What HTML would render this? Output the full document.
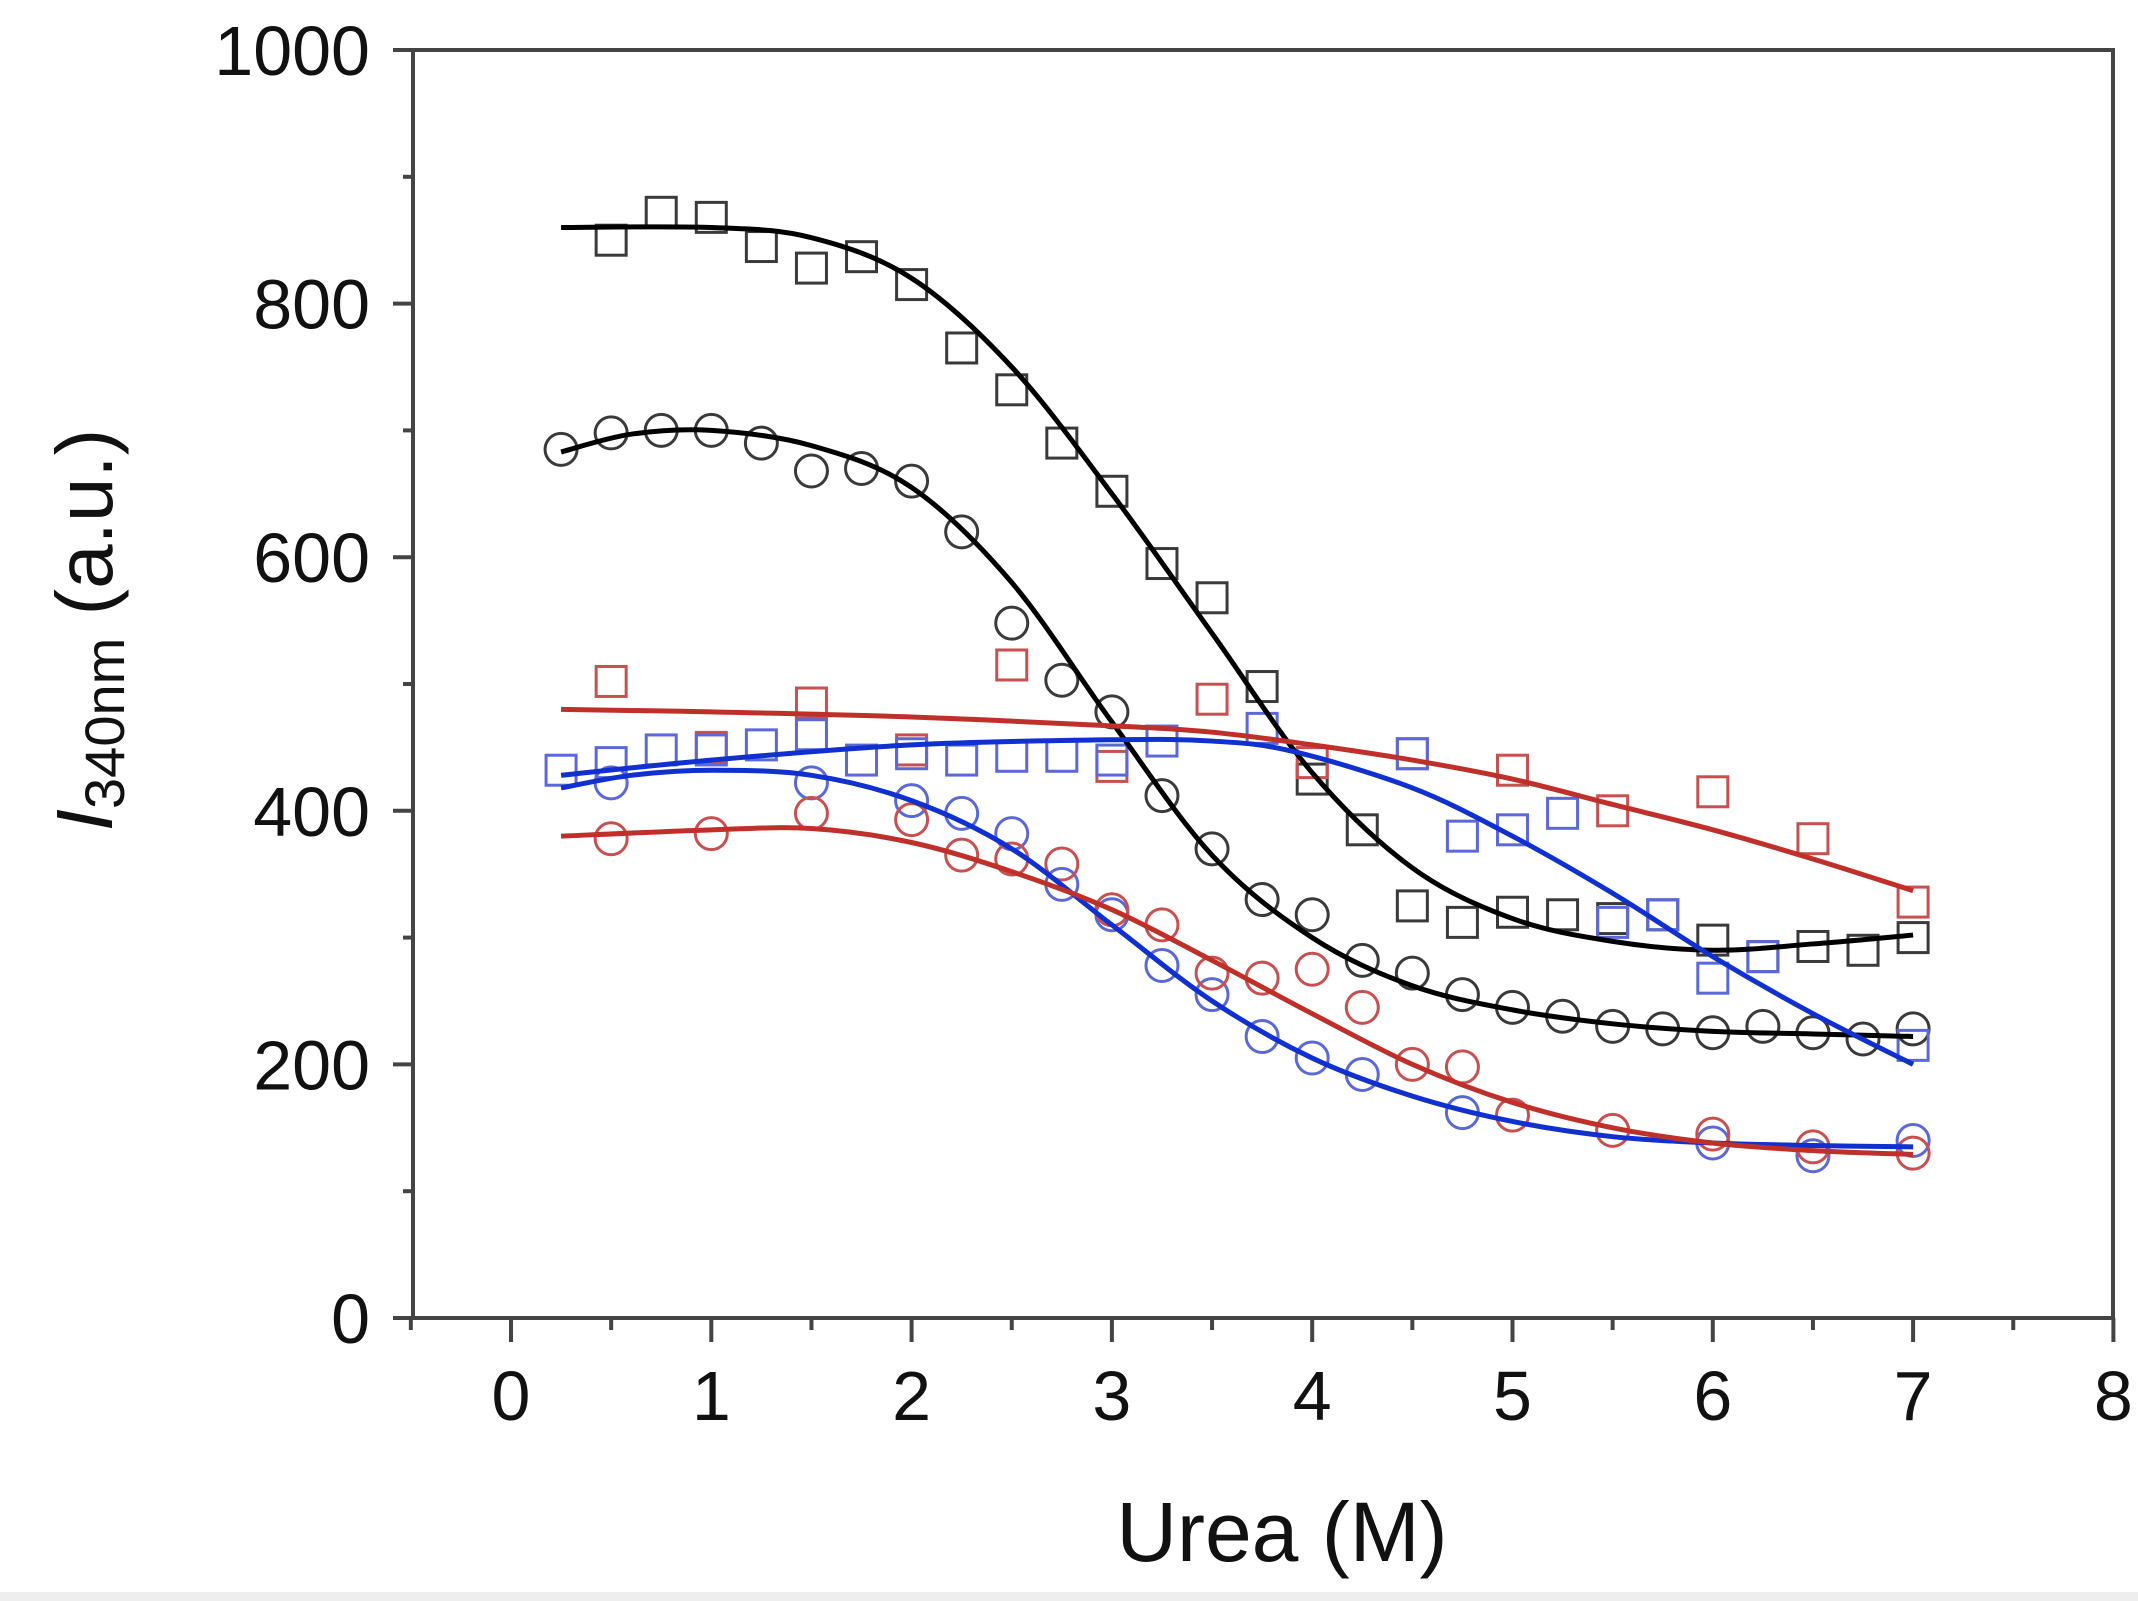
<!DOCTYPE html>
<html><head><meta charset="utf-8"><style>
html,body{margin:0;padding:0;background:#fff;}
svg{display:block;}
text{font-family:"Liberation Sans","DejaVu Sans",sans-serif;fill:#111;}
</style></head><body>
<svg id="s" width="2138" height="1601" viewBox="0 0 2138 1601" xmlns="http://www.w3.org/2000/svg">
<rect x="0" y="0" width="2138" height="1601" fill="#fff"/>
<rect x="0" y="1592" width="2138" height="9" fill="#eeeeee"/>
<g id="ax"></g>
<g id="data"></g>
<text x="1282" y="1561" font-size="84" text-anchor="middle">Urea (M)</text>
<text transform="translate(112,630) rotate(-90)" font-size="80" text-anchor="middle"><tspan font-style="italic">I</tspan><tspan font-size="56" dy="12">340nm</tspan><tspan dy="-12"> (a.u.)</tspan></text>
</svg>
<script>
const L=413,R=2113,T=50,B=1318;
const X=v=>511+v*200.3, Y=v=>1318-v*1.268;
const NS="http://www.w3.org/2000/svg";
function el(p,n,a,t){const e=document.createElementNS(NS,n);for(const k in a)e.setAttribute(k,a[k]);if(t!==undefined)e.textContent=t;p.appendChild(e);return e;}
const ax=document.getElementById('ax'),dg=document.getElementById('data');
el(ax,'rect',{x:L,y:T,width:R-L,height:B-T,fill:'none',stroke:'#444','stroke-width':4});
for(let v=0;v<=1000;v+=100){const y=Y(v),maj=v%200==0;el(ax,'line',{x1:L-(maj?20:10),x2:L,y1:y,y2:y,stroke:'#444','stroke-width':4});
 if(maj)el(ax,'text',{x:370,y:y+25,'font-size':70,'text-anchor':'end'},v);}
for(let v=-0.5;v<=8.001;v+=0.5){const x=X(v),maj=Math.abs(v%1)<1e-6;el(ax,'line',{x1:x,x2:x,y1:B,y2:B+(maj?24:12),stroke:'#444','stroke-width':4});
 if(maj)el(ax,'text',{x:x,y:1420,'font-size':70,'text-anchor':'middle'},v);}
function curve(pts,col){let d='';const P=pts.map(p=>[X(p[0]),Y(p[1])]);
 d='M'+P[0][0]+','+P[0][1];
 for(let i=0;i<P.length-1;i++){const p0=P[Math.max(0,i-1)],p1=P[i],p2=P[i+1],p3=P[Math.min(P.length-1,i+2)];
  d+=' C'+(p1[0]+(p2[0]-p0[0])/6)+','+(p1[1]+(p2[1]-p0[1])/6)+' '+(p2[0]-(p3[0]-p1[0])/6)+','+(p2[1]-(p3[1]-p1[1])/6)+' '+p2[0]+','+p2[1];}
 el(dg,'path',{d:d,fill:'none',stroke:col,'stroke-width':5});}
function sq(pts,col){pts.forEach(p=>el(dg,'rect',{x:X(p[0])-15,y:Y(p[1])-15,width:30,height:30,fill:'none',stroke:col,'stroke-width':3}));}
function ci(pts,col){pts.forEach(p=>el(dg,'circle',{cx:X(p[0]),cy:Y(p[1]),r:16,fill:'none',stroke:col,'stroke-width':3}));}
const K='#3a3a3a',RM='#c85050',BM='#5a68d8',RC='#c0302a',BC='#1030d0';
sq([[0.5,850],[0.75,872],[1,868],[1.25,845],[1.5,828],[1.75,837],[2,815],[2.25,765],[2.5,732],[2.75,690],[3,652],[3.25,595],[3.5,568],[3.75,498],[4,425],[4.25,385],[4.5,325],[4.75,312],[5,320],[5.25,318],[5.5,315],[5.75,318],[6,298],[6.25,285],[6.5,293],[6.75,290],[7,300]],K);
ci([[0.25,685],[0.5,698],[0.75,700],[1,700],[1.25,690],[1.5,668],[1.75,670],[2,660],[2.25,620],[2.5,548],[2.75,503],[3,478],[3.25,412],[3.5,370],[3.75,330],[4,318],[4.25,282],[4.5,272],[4.75,255],[5,245],[5.25,238],[5.5,230],[5.75,228],[6,225],[6.25,230],[6.5,225],[6.75,220],[7,228]],K);
sq([[0.5,502],[1,450],[1.5,485],[2,448],[2.5,515],[3,435],[3.5,488],[4,438],[4.5,445],[5,432],[5.5,400],[6,415],[6.5,378],[7,328]],RM);
sq([[0.25,432],[0.5,438],[0.75,448],[1,448],[1.25,452],[1.5,460],[1.75,440],[2,445],[2.25,440],[2.5,443],[2.75,443],[3,440],[3.25,455],[3.75,465],[4.5,445],[4.75,380],[5,385],[5.25,398],[5.5,312],[5.75,318],[6,268],[6.25,285],[7,215]],BM);
ci([[0.5,422],[1.5,422],[2,408],[2.25,398],[2.5,382],[2.75,342],[3,318],[3.25,278],[3.5,255],[3.75,222],[4,205],[4.25,192],[4.75,162],[6,138],[6.5,128],[7,140]],BM);
ci([[0.5,378],[1,382],[1.5,398],[2,393],[2.25,365],[2.5,362],[2.75,358],[3,322],[3.25,310],[3.5,272],[3.75,268],[4,275],[4.25,245],[4.5,200],[4.75,198],[5,160],[5.5,148],[6,145],[6.5,135],[7,130]],RM);
curve([[0.25,860],[1,860],[1.5,852],[2,820],[2.5,750],[3,650],[3.5,540],[4,430],[4.5,355],[5,315],[5.5,297],[6,290],[6.5,295],[7,302]],'#000');
curve([[0.25,683],[0.6,697],[1,700],[1.5,688],[2,655],[2.5,580],[3,470],[3.5,365],[4,300],[4.5,262],[5,243],[5.5,232],[6,226],[6.5,224],[7,222]],'#000');
curve([[0.25,480],[1,478],[2,474],[3,467],[3.5,462],[4,452],[4.5,440],[5,425],[5.5,405],[6,385],[6.5,362],[7,337]],RC);
curve([[0.25,428],[1,440],[2,452],[3,456],[3.5,455],[3.9,447],[4.5,418],[5,380],[5.5,335],[6,285],[6.5,240],[7,200]],BC);
curve([[0.25,418],[0.6,428],[1,432],[1.5,428],[2,408],[2.5,370],[3,310],[3.5,250],[4,205],[4.5,175],[5,155],[5.5,143],[6,138],[6.5,136],[7,135]],BC);
curve([[0.25,380],[1,385],[1.5,386],[2,375],[2.5,352],[3,322],[3.5,282],[4,240],[4.5,200],[5,170],[5.5,150],[6,138],[6.5,132],[7,129]],RC);
</script>
</body></html>
